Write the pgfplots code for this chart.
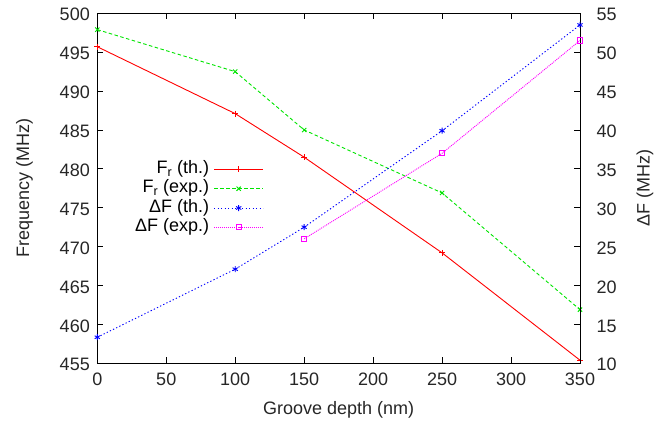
\documentclass[border=0pt]{standalone}
\usepackage{fontspec}
\setmainfont{Liberation Sans}
\usepackage{pgfplots}
\pgfplotsset{compat=1.18}
\newcommand\ff{\fontsize{18bp}{21bp}\selectfont}
\definecolor{tc}{gray}{0.15}
\definecolor{cred}{rgb}{1,0,0}
\definecolor{cgreen}{rgb}{0,0.9,0}
\definecolor{cblue}{rgb}{0,0,1}
\definecolor{cmag}{rgb}{1,0,1}
\pgfplotsset{
  common/.style={
    scale only axis, width=482.7bp, height=350bp,
    xmin=0, xmax=350,
    /pgf/number format/assume math mode=true,
    tick label style={font=\ff, text=tc},
    major tick length=6bp,
    tick style={black, line width=0.8bp},
    axis line style={black, line width=1bp},
    tick align=inside,
  },
  thline/.style={cred, line width=0.9bp, mark=+, mark size=3bp, mark options={solid}},
  exline/.style={cgreen, line width=0.9bp, dash pattern=on 3.5bp off 2.5bp, mark=x, mark size=3bp, mark options={solid}},
  dthline/.style={cblue, line width=0.9bp, dash pattern=on 1.3bp off 2.2bp, mark=asterisk, mark size=3bp, mark options={solid}},
  dexline/.style={cmag, line width=0.9bp, dash pattern=on 1bp off 1bp, mark=square, mark size=2.6bp, mark options={solid}},
}
\begin{document}
\begin{tikzpicture}
\begin{axis}[common,
  ymin=455, ymax=500, ytick={455,460,...,500},
  xtick={0,50,...,350},
  ytick pos=left, xtick pos=both,
  xticklabel style={yshift=-6bp},
  yticklabel style={xshift=-4bp, yshift=-1.5bp},
  xlabel={Groove depth (nm)},
  ylabel={Frequency (MHz)},
  every axis x label/.style={at={(axis description cs:0.5,-0.132)}, anchor=center, font=\ff, text=tc},
  every axis y label/.style={at={(axis description cs:-0.151,0.5)}, rotate=90, anchor=center, font=\ff, text=tc},
]
\addplot[thline] coordinates {(0,495.7) (100,487.1) (150,481.5) (250,469.2) (350,455.4)};
\addplot[exline] coordinates {(0,497.9) (100,492.5) (150,485.0) (250,476.9) (350,461.9)};
\end{axis}
\begin{axis}[common,
  ymin=10, ymax=55, ytick={10,15,...,55},
  axis x line=none, axis y line*=right,
  yticklabel style={xshift=13bp, yshift=-1.5bp},
  ylabel={ΔF (MHz)},
  every axis y label/.style={at={(axis description cs:1.1347,0.5)}, rotate=90, anchor=center, font=\ff, text=tc},
  legend plot pos=right,
  legend cell align=right,
  legend style={at={(axis description cs:0.345,0.581)}, anchor=north east, draw=none, fill=none,
    font=\ff, inner sep=0pt, row sep=0.8bp, column sep=4bp,
    nodes={inner sep=0.5bp, text height=13bp, text depth=4.5bp}},
  legend image code/.code={\draw[mark repeat=2, mark phase=2, #1] plot coordinates {(0bp,0bp) (24.5bp,0bp) (49bp,0bp)};},
]
\addlegendimage{thline}
\addlegendentry{F\textsubscript{r} (th.)}
\addlegendimage{exline}
\addlegendentry{F\textsubscript{r} (exp.)}
\addplot[dthline] coordinates {(0,13.35) (100,22.1) (150,27.5) (250,39.9) (350,53.5)};
\addlegendentry{ΔF (th.)}
\addplot[dexline] coordinates {(150,26.0) (250,37.0) (350,51.5)};
\addlegendentry{ΔF (exp.)}
\end{axis}
\pgfresetboundingbox
\path[use as bounding box] (-97.3bp,-60.7bp) rectangle (563.7bp,363.3bp);
\end{tikzpicture}
\end{document}
